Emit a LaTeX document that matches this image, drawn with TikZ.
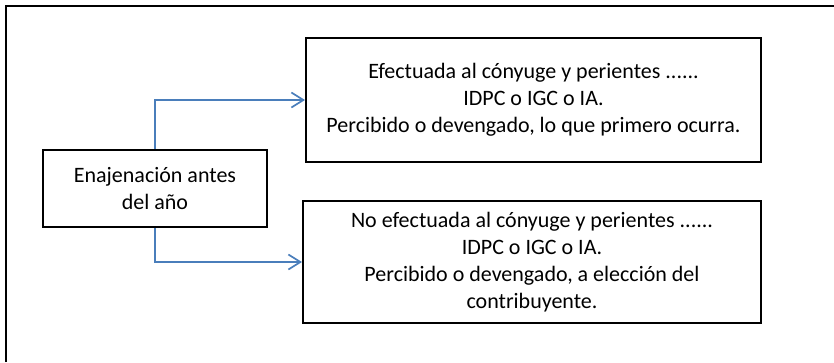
\documentclass[tikz,border=0pt]{standalone}
\usepackage{fontspec}
\setmainfont{Carlito}
\usetikzlibrary{arrows.meta}
\definecolor{connblue}{RGB}{74,126,187}
\tikzset{
  box/.style={draw=black, line width=2pt, fill=white, align=center, inner sep=0pt,
    font=\fontsize{22}{27}\selectfont},
  conn/.style={draw=connblue, line width=1.7pt, -{Straight Barb[length=12pt,width=15pt,line width=1.7pt]}},
  frame/.style={draw=black, line width=2.2pt}
}
\begin{document}
\begin{tikzpicture}[x=1pt,y=-1pt]
\useasboundingbox (0,0) rectangle (834,362);
\draw[frame] (5.7,362) -- (5.7,5.7) -- (834,5.7);
\node[box, minimum width=455pt, minimum height=124pt] (B) at (533.5,100)
  {Efectuada al cónyuge y perientes ......\\IDPC o IGC o IA.\\Percibido o devengado, lo que primero ocurra.};
\node[box, minimum width=458pt, minimum height=122pt] (C) at (532,262)
  {No efectuada al cónyuge y perientes ......\\IDPC o IGC o IA.\\Percibido o devengado, a elección del\\contribuyente.};
\node[box, minimum width=224pt, minimum height=77pt] (A) at (155,188.5)
  {Enajenación antes\\del año};
\draw[conn] (A.north) |- (B.west);
\draw[conn] (A.south) |- (C.west);
\end{tikzpicture}
\end{document}
